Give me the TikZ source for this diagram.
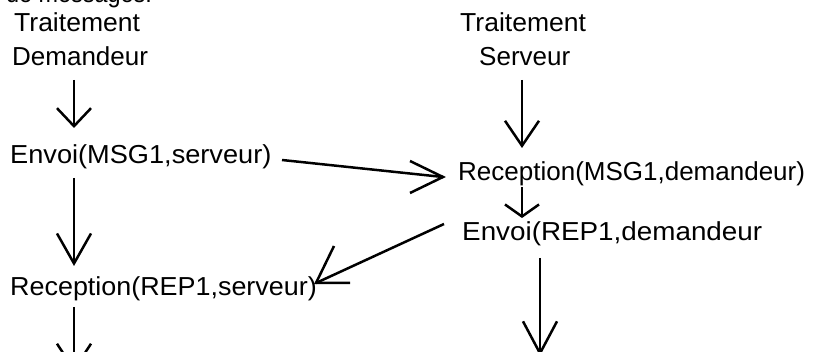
\documentclass[tikz,border=0pt]{standalone}
\usepackage{fontspec}
\setmainfont{Liberation Sans}
\usetikzlibrary{arrows.meta,calc}
% text set a little wider than the font's natural width
\newcommand{\wider}[2]{\scalebox{#1}[1]{#2}}
\begin{document}
\begin{tikzpicture}[x=1pt,y=-1pt,
  lbl/.style={anchor=base west,inner sep=0pt,font=\fontsize{26}{30}\selectfont},
  line/.style={line width=2.5pt,line cap=butt},
  flow/.style={line,
    -{Straight Barb[length=#1,width=34pt,line width=2.5pt]}},
  flow/.default=22pt]
\clip (0,0) rectangle (816,352);
\useasboundingbox (0,0) rectangle (816,352);
\fill[white] (0,0) rectangle (816,352);

% caption line, cut by the top edge
\node[lbl] (cap) at (6,3) {\wider{0.9}{de messages.}};

% client column
\node[lbl] (t1) at (14,32) {\wider{1.02}{Traitement}};
\node[lbl] (d1) at (12,66) {Demandeur};
\node[lbl] (e1) at (10,164) {\wider{1.045}{Envoi(MSG1,serveur)}};
\node[lbl] (r1) at (10,296) {\wider{1.035}{Reception(REP1,serveur)}};

% server column
\node[lbl] (t2) at (460,32) {\wider{1.02}{Traitement}};
\node[lbl] (s2) at (479,66) {Serveur};
\node[lbl] (r2) at (458,181) {Reception(MSG1,demandeur)};
\node[lbl] (e2) at (462,241) {\wider{1.07}{Envoi(REP1,demandeur}};

% free ends of the flows
\coordinate (c1a) at (74,80);   \coordinate (c1b) at (74,128);
\coordinate (c2a) at (74,178);  \coordinate (c2b) at (74,266);
\coordinate (c3a) at (74,307);  \coordinate (c3b) at (74,372);
\coordinate (s1a) at (522,80);  \coordinate (s1b) at (522,148);
\coordinate (s2a) at (522,187); \coordinate (s2b) at (522,218);
\coordinate (s3a) at (540,258); \coordinate (s3b) at (540,356);
\coordinate (m1a) at (282,160); \coordinate (m1b) at (443,177);
\coordinate (p1a) at (444,224); \coordinate (p1b) at (316,283);

% sequence of each process
\draw[flow=18pt] (c1a) -- (c1b);
\draw[flow=30pt] (c2a) -- (c2b);
\draw[flow=26pt] (c3a) -- (c3b);
\draw[flow=25pt] (s1a) -- (s1b);
\draw[flow=12pt] (s2a) -- (s2b);
\draw[flow=32pt] (s3a) -- (s3b);

% messages exchanged, with hand-drawn open heads
\draw[line] (m1a) -- (m1b);
\draw[line,line join=miter] ($(m1b)+(-33,-16)$) -- (m1b) -- ($(m1b)+(-33,16)$);
\draw[line] (p1a) -- (p1b);
\draw[line,line join=miter] ($(p1b)+(18,-37)$) -- (p1b) -- ($(p1b)+(34,0)$);
\end{tikzpicture}
\end{document}
